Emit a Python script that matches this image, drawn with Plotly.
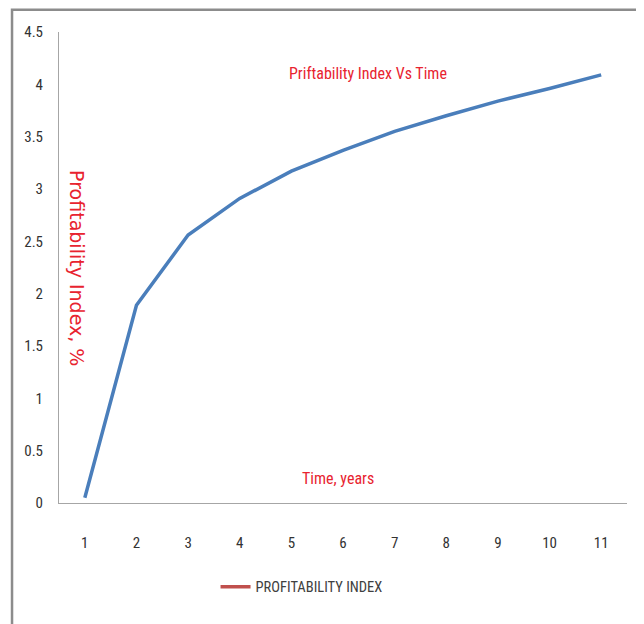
import plotly.graph_objects as go

years = ["1", "2", "3", "4", "5", "6", "7", "8", "9", "10", "11"]
profitability_index = [0.05, 1.89, 2.56, 2.91, 3.17, 3.37, 3.55, 3.70, 3.84, 3.96, 4.09]
y_ticks = [0, 0.5, 1, 1.5, 2, 2.5, 3, 3.5, 4, 4.5]
y_tick_labels = ["0", "0.5", "1", "1.5", "2", "2.5", "3", "3.5", "4", "4.5"]

narrow = "Liberation Sans Narrow, Arial Narrow, Roboto Condensed, Open Sans, sans-serif"
red = "#e8232f"

fig = go.Figure()
fig.add_trace(go.Scatter(
    x=years, y=profitability_index, mode="lines",
    line=dict(color="#4a7ebb", width=3.5),
    showlegend=False, hoverinfo="x+y",
))
fig.add_trace(go.Scatter(
    x=[None], y=[None], mode="lines",
    line=dict(color="#c0504d", width=3.5),
    name="PROFITABILITY INDEX",
))

fig.update_layout(
    width=636, height=616,
    margin=dict(l=51, r=17, t=24, b=121),
    paper_bgcolor="white", plot_bgcolor="white",
    xaxis=dict(
        type="category", range=[-0.5, 10.5],
        showline=True, linecolor="#a6a6a6", linewidth=1,
        showgrid=False, zeroline=False, ticks="",
        ticklabelstandoff=26,
        tickfont=dict(family=narrow, size=15, color="#333333"),
    ),
    yaxis=dict(
        range=[0, 4.5], tickvals=y_ticks, ticktext=y_tick_labels,
        showline=True, linecolor="#a6a6a6", linewidth=1,
        showgrid=False, zeroline=False, ticks="",
        ticklabelstandoff=12,
        tickfont=dict(family=narrow, size=15, color="#333333"),
    ),
    legend=dict(
        x=0.2756, y=-0.178, xanchor="left", yanchor="middle",
        orientation="h", bgcolor="rgba(0,0,0,0)",
        font=dict(family=narrow, size=14.5, color="#404040"),
        itemwidth=30,
    ),
    shapes=[dict(
        type="rect", xref="paper", yref="paper",
        x0=-0.0827, x1=1.0246, y0=-0.27, y1=1.047,
        line=dict(color="#8c8c8c", width=2.5), fillcolor="rgba(0,0,0,0)",
        layer="below",
    )],
    annotations=[
        dict(text="Priftability Index Vs Time", xref="paper", yref="paper",
             x=0.544, y=0.936, showarrow=False,
             font=dict(family=narrow, size=16, color=red)),
        dict(text="Time, years", xref="paper", yref="paper",
             x=0.491, y=0.028, showarrow=False,
             font=dict(family=narrow, size=16, color=red)),
        dict(text="Profitability Index, %", xref="paper", yref="paper",
             x=0.0086, y=0.499, showarrow=False, textangle=90,
             font=dict(family="Verdana, DejaVu Sans, sans-serif", size=19, color=red)),
    ],
)

fig.write_html("out.html")
